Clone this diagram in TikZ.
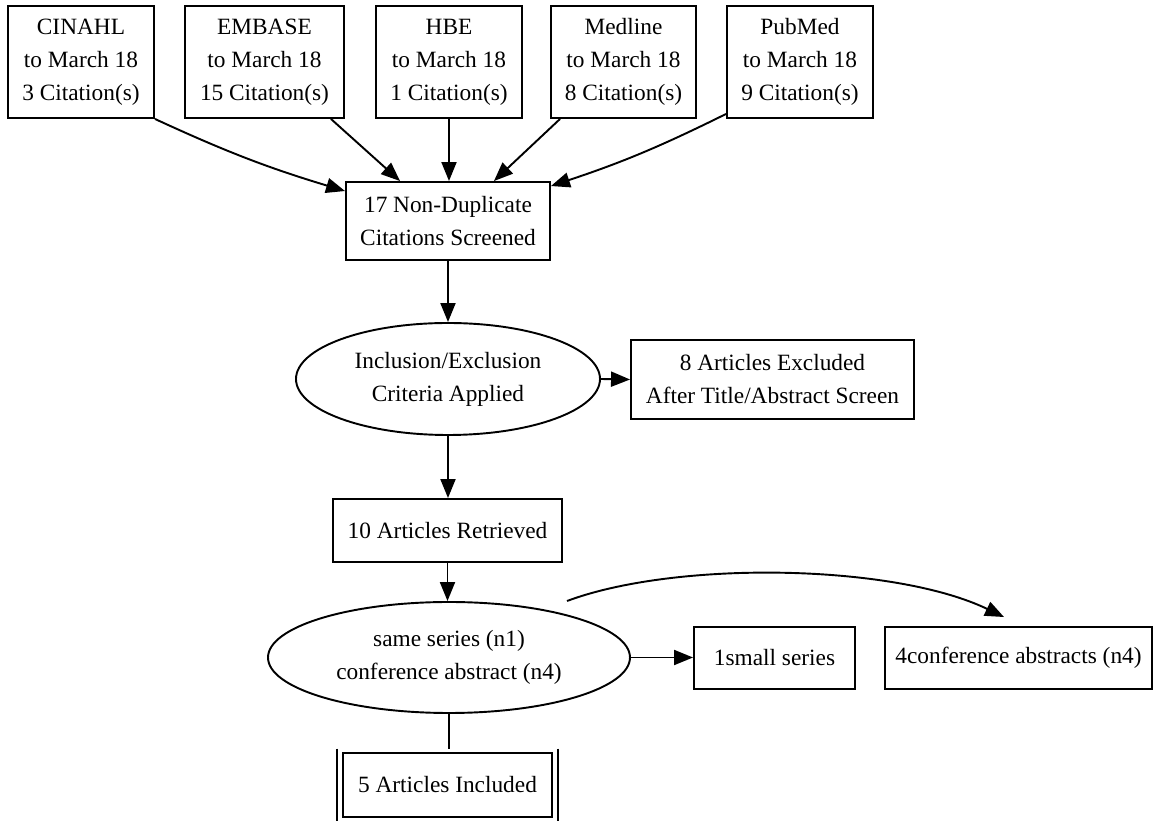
\documentclass[tikz,border=0pt]{standalone}
\usepackage{fontspec}
\setmainfont{Liberation Serif}
\usetikzlibrary{shapes.geometric,arrows.meta,calc}
\begin{document}
\begin{tikzpicture}[x=0.6pt,y=-0.6pt,
  every node/.style={font=\fontsize{14pt}{19.8pt}\selectfont, align=center, inner sep=0pt},
  rbox/.style={draw, rectangle, line width=1.15pt},
  oval/.style={draw, ellipse, line width=1.15pt},
  conn/.style={line width=1.15pt, -{Triangle[length=11.4pt,width=9pt]}},
  plain/.style={line width=1.15pt}]
\fill[white] (0,0) rectangle (1156,821);
\useasboundingbox (0,0) rectangle (1156,821);
% sources
\node[rbox, minimum width=87.6pt, minimum height=67.2pt] (cinahl) at (81,62) {CINAHL\\to March 18\\3 Citation(s)};
\node[rbox, minimum width=95.4pt, minimum height=67.2pt] (embase) at (264.5,62) {EMBASE\\to March 18\\15 Citation(s)};
\node[rbox, minimum width=87.6pt, minimum height=67.2pt] (hbe) at (449,62) {HBE\\to March 18\\1 Citation(s)};
\node[rbox, minimum width=87.0pt, minimum height=67.2pt] (medline) at (623.5,62) {Medline\\to March 18\\8 Citation(s)};
\node[rbox, minimum width=87.6pt, minimum height=67.2pt] (pubmed) at (800,62) {PubMed\\to March 18\\9 Citation(s)};
% flow
\node[rbox, minimum width=122.4pt, minimum height=46.8pt] (screened) at (448,221) {17 Non-Duplicate\\Citations Screened};
\node[oval, minimum width=182.4pt, minimum height=67.2pt] (incl) at (448,379) {Inclusion/Exclusion\\Criteria Applied};
\node[rbox, minimum width=169.8pt, minimum height=47.4pt] (excl) at (772.5,379.5) {8 Articles Excluded\\After Title/Abstract Screen};
\node[rbox, minimum width=137.4pt, minimum height=37.8pt] (retr) at (447.5,530.5) {10 Articles Retrieved};
\node[oval, minimum width=217.2pt, minimum height=66.6pt] (same) at (449,657.5) {same series (n1)\\conference abstract (n4)};
\node[rbox, minimum width=96.6pt, minimum height=37.2pt] (small) at (774.5,658) {1small series};
\node[rbox, minimum width=160.2pt, minimum height=37.2pt] (conf) at (1018.5,658) {4conference abstracts (n4)};
\node[rbox, minimum width=125.4pt, minimum height=38.4pt] (included) at (447.5,785) {5 Articles Included};
\node[rectangle, minimum width=132.6pt, minimum height=43.2pt] (inclout) at (447.5,785) {};
\draw[plain] (inclout.north west) -- (inclout.south west);
\draw[plain] (inclout.north east) -- (inclout.south east);
% connectors
\draw[conn] (cinahl.south east) to[bend right=4] ([yshift=-6pt]screened.north west);
\draw[conn] ([xshift=-8.4pt]embase.south east) -- ([xshift=33pt]screened.north west);
\draw[conn] (hbe.south) -- (hbe.south |- screened.north);
\draw[conn] ([xshift=6pt]medline.south west) -- ([xshift=-34.2pt]screened.north east);
\draw[conn] ([yshift=3pt]pubmed.south west) to[bend left=4] ([yshift=-3pt]screened.north east);
\draw[conn] (screened.south) -- (screened.south |- incl.north);
\draw[conn] (incl.east) -- (excl.west);
\draw[conn] (incl.south) -- (incl.south |- retr.north);
\draw[conn] (retr.south) -- (retr.south |- same.north);
\draw[conn] (same.east) -- (same.east -| small.west);
\draw[conn] ([shift={(70.8pt,33.9pt)}]same.center) .. controls +(110,-41) and +(-110,-53) .. ([shift={(72pt,5.4pt)}]conf.north west);
\draw[plain] (same.south) -- (same.south |- inclout.north);
\end{tikzpicture}
\end{document}
